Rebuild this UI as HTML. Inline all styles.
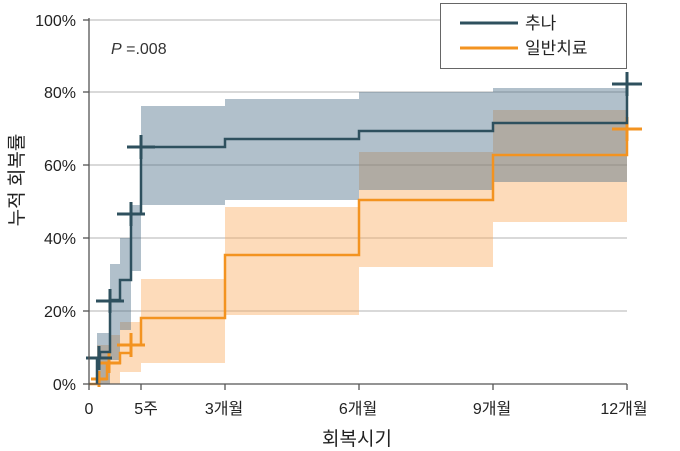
<!DOCTYPE html>
<html><head><meta charset="utf-8"><style>
html,body{margin:0;padding:0;background:#fff;}
svg{display:block;font-family:"Liberation Sans","Noto Sans CJK KR",sans-serif;}
</style></head><body>
<svg width="680" height="451" viewBox="0 0 680 451" xmlns="http://www.w3.org/2000/svg">
<g stroke="#d9d9d9" stroke-width="2">
<line x1="89" y1="20" x2="627" y2="20"/>
<line x1="89" y1="92" x2="627" y2="92"/>
<line x1="89" y1="165" x2="627" y2="165"/>
<line x1="89" y1="238" x2="627" y2="238"/>
<line x1="89" y1="311" x2="627" y2="311"/>
</g>
<!-- orange band -->
<g fill="rgb(251,170,90)" fill-opacity="0.42">
<rect x="97" y="345" width="12" height="39"/>
<rect x="109" y="335" width="11" height="49"/>
<rect x="120" y="322" width="21" height="50"/>
<rect x="141" y="279" width="84" height="84"/>
<rect x="225" y="207" width="134" height="108"/>
<rect x="359" y="152" width="134" height="115"/>
<rect x="493" y="110" width="134" height="112"/>
</g>
<!-- navy band -->
<g fill="rgb(70,105,130)" fill-opacity="0.42">
<rect x="97" y="333" width="13" height="51"/>
<rect x="110" y="264" width="10" height="96"/>
<rect x="120" y="238" width="11" height="92"/>
<rect x="131" y="205" width="10" height="66"/>
<rect x="141" y="106" width="84" height="99"/>
<rect x="225" y="99" width="134" height="101"/>
<rect x="359" y="92" width="134" height="98"/>
<rect x="493" y="88" width="134" height="94"/>
</g>
<!-- orange line -->
<path d="M89 384 H99 V379 H107 V363 H120 V353 H131 V345 H141 V318 H225 V255 H359 V200 H493 V155 H627 V129" fill="none" stroke="#f39320" stroke-width="2.5"/>
<g stroke="#f39320" stroke-width="3">
<line x1="99" y1="371" x2="99" y2="387"/><line x1="91" y1="379" x2="107" y2="379"/>
<line x1="109" y1="353" x2="109" y2="373"/><line x1="97" y1="363" x2="121" y2="363"/>
<line x1="131" y1="333" x2="131" y2="357"/><line x1="117" y1="345" x2="145" y2="345"/>
<line x1="627" y1="117" x2="627" y2="141"/><line x1="612" y1="129" x2="642" y2="129"/>
</g>
<!-- navy line -->
<path d="M97 384 V358 H100 V352 H110 V300 H120 V280 H131 V214 H141 V147 H225 V139 H359 V131 H493 V123 H627 V84" fill="none" stroke="#2e505e" stroke-width="2.5"/>
<g stroke="#2e505e" stroke-width="3">
<line x1="99" y1="346" x2="99" y2="370"/><line x1="86" y1="358" x2="112" y2="358"/>
<line x1="110" y1="289" x2="110" y2="313"/><line x1="96" y1="301" x2="124" y2="301"/>
<line x1="131" y1="202" x2="131" y2="226"/><line x1="117" y1="214" x2="145" y2="214"/>
<line x1="141" y1="135" x2="141" y2="159"/><line x1="127" y1="147" x2="155" y2="147"/>
<line x1="627" y1="72" x2="627" y2="96"/><line x1="612" y1="84" x2="642" y2="84"/>
</g>
<!-- axes -->
<g stroke="#555" stroke-width="1.3" fill="none">
<line x1="89" y1="18" x2="89" y2="384"/>
<line x1="89" y1="384" x2="627" y2="384"/>
<line x1="83" y1="20" x2="89" y2="20"/><line x1="83" y1="92" x2="89" y2="92"/><line x1="83" y1="165" x2="89" y2="165"/><line x1="83" y1="238" x2="89" y2="238"/><line x1="83" y1="311" x2="89" y2="311"/><line x1="83" y1="384" x2="89" y2="384"/>
<line x1="89" y1="384" x2="89" y2="390"/><line x1="141" y1="384" x2="141" y2="390"/><line x1="225" y1="384" x2="225" y2="390"/><line x1="359" y1="384" x2="359" y2="390"/><line x1="493" y1="384" x2="493" y2="390"/><line x1="627" y1="384" x2="627" y2="390"/>
</g>
<g font-size="16" fill="#222" text-anchor="end">
<text x="76" y="26">100%</text><text x="76" y="98">80%</text><text x="76" y="171">60%</text><text x="76" y="244">40%</text><text x="76" y="317">20%</text><text x="76" y="390">0%</text>
</g>
<g font-size="16" fill="#222" text-anchor="middle">
<text x="89" y="414">0</text><text x="146" y="414">5주</text><text x="224" y="414">3개월</text><text x="358" y="414">6개월</text><text x="492" y="414">9개월</text><text x="624" y="414">12개월</text>
</g>
<text x="357" y="445" font-size="19" fill="#222" text-anchor="middle">회복시기</text>
<text transform="translate(23,180) rotate(-90)" font-size="19" fill="#222" text-anchor="middle">누적 회복률</text>
<text x="111" y="54" font-size="16" fill="#333"><tspan font-style="italic">P</tspan> =.008</text>
<rect x="440.5" y="3.5" width="186" height="65" fill="#fff" stroke="#666" stroke-width="1"/>
<line x1="460" y1="23" x2="518" y2="23" stroke="#2e505e" stroke-width="3"/>
<line x1="460" y1="48" x2="518" y2="48" stroke="#f39320" stroke-width="3"/>
<text x="525" y="29" font-size="17" fill="#222">추나</text>
<text x="525" y="54" font-size="17" fill="#222">일반치료</text>
</svg>
</body></html>
